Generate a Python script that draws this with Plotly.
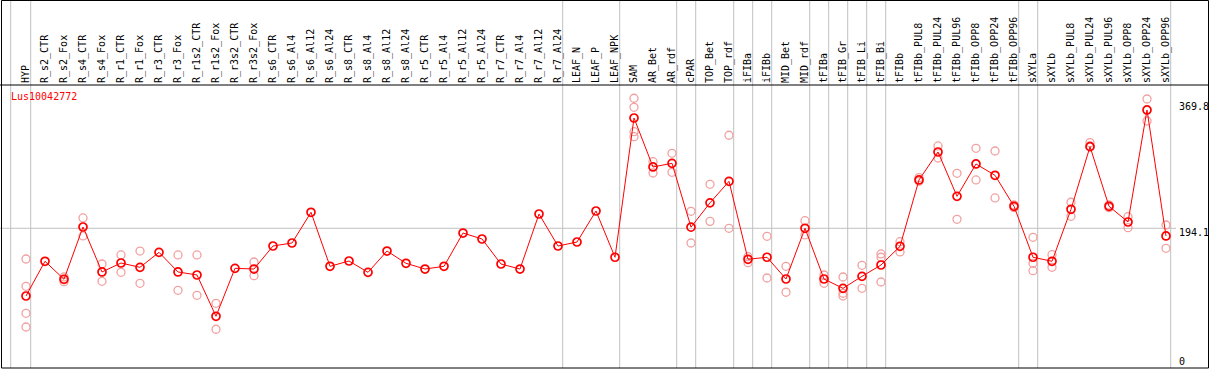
import plotly.graph_objects as go

categories = [
    "HYP", "R_s2_CTR", "R_s2_Fox", "R_s4_CTR", "R_s4_Fox", "R_r1_CTR", "R_r1_Fox",
    "R_r3_CTR", "R_r3_Fox", "R_r1s2_CTR", "R_r1s2_Fox", "R_r3s2_CTR", "R_r3s2_Fox",
    "R_s6_CTR", "R_s6_Al4", "R_s6_Al12", "R_s6_Al24", "R_s8_CTR", "R_s8_Al4",
    "R_s8_Al12", "R_s8_Al24", "R_r5_CTR", "R_r5_Al4", "R_r5_Al12", "R_r5_Al24",
    "R_r7_CTR", "R_r7_Al4", "R_r7_Al12", "R_r7_Al24", "LEAF_N", "LEAF_P", "LEAF_NPK",
    "SAM", "AR_Bet", "AR_rdf", "cPAR", "TOP_Bet", "TOP_rdf", "iFIBa", "iFIBb",
    "MID_Bet", "MID_rdf", "tFIBa", "tFIB_Gr", "tFIB_Li", "tFIB_Bi", "tFIBb",
    "tFIBb_PUL8", "tFIBb_PUL24", "tFIBb_PUL96", "tFIBb_OPP8", "tFIBb_OPP24", "tFIBb_OPP96",
    "sXYLa", "sXYLb", "sXYLb_PUL8", "sXYLb_PUL24", "sXYLb_PUL96", "sXYLb_OPP8",
    "sXYLb_OPP24", "sXYLb_OPP96",
]

mean_values = [
    99.7, 148.1, 123.0, 195.9, 133.2, 145.7, 139.7, 160.6, 133.2, 129.0,
    71.4, 138.3, 137.3, 169.4, 173.6, 216.4, 141.1, 148.5, 132.7, 162.4,
    145.3, 137.3, 141.1, 187.5, 179.2, 144.3, 137.3, 214.0, 169.4, 175.0,
    218.2, 153.7, 347.9, 279.6, 284.7, 195.7, 229.6, 259.6, 150.9, 153.7,
    123.4, 194.1, 123.4, 110.4, 127.1, 142.9, 169.0, 261.5, 300.5, 238.7,
    283.8, 268.0, 224.8, 153.7, 148.1, 220.6, 307.9, 224.8, 202.9, 359.1,
    183.4,
]

replicate_values = [
    [151.3, 113.2, 75.6, 56.5], [], [119.7, 126.3], [208.5, 183.4], [144.3, 120.2],
    [156.9, 132.7], [162.4, 117.4], [], [156.9, 107.6], [156.9, 100.7],
    [89.5, 53.3], [], [147.1, 128.0], [], [], [], [], [], [], [],
    [], [], [], [], [], [], [], [], [], [],
    [], [], [375.4, 362.8, 328.8, 321.8], [287.0, 271.2], [298.7, 272.2],
    [217.8, 173.6], [255.4, 203.8], [323.8, 194.1], [146.1, 154.5], [182.9, 124.8],
    [141.1, 104.9], [204.7, 184.8], [129.0, 117.4], [126.2, 103.5, 99.7], [142.5, 110.4],
    [158.3, 153.7, 119.2], [175.4, 161.1], [264.7, 259.6], [308.9, 292.1], [270.8, 206.6],
    [305.6, 261.5], [301.9, 236.4], [226.6, 222.8], [181.5, 145.3, 135.0], [157.3, 139.7],
    [230.4, 210.8], [313.5, 308.9], [222.8, 226.6], [210.3, 194.9], [374.4, 343.7],
    [198.7, 166.2],
]

# last category of each group (a separator is drawn just after it)
group_ends = ["HYP", "R_r7_Al24", "LEAF_NPK", "AR_rdf", "cPAR", "TOP_rdf", "iFIBa",
              "iFIBb", "MID_rdf", "tFIBa", "tFIB_Gr", "tFIB_Li", "tFIB_Bi",
              "tFIBb_OPP96", "sXYLa", "sXYLb_OPP96"]

axis_labels = [369.8, 194.1, 0]
title_text = "Lus10042772"

W, H = 1209, 370
TOP, BOT = 85, 2
plot_h = H - TOP - BOT
paper_top = (plot_h + TOP - 0.5) / plot_h

rep_x, rep_y = [], []
for cat, reps in zip(categories, replicate_values):
    for v in reps:
        rep_x.append(cat)
        rep_y.append(v)

GRAY = "#c0c0c0"
MONO = "DejaVu Sans Mono"

fig = go.Figure()
fig.add_trace(go.Scatter(
    x=rep_x, y=rep_y, mode="markers",
    marker=dict(symbol="circle-open", size=8, color="#f2a0a0", line=dict(width=1.3, color="#f2a0a0")),
    hoverinfo="skip", showlegend=False,
))
fig.add_trace(go.Scatter(
    x=categories, y=mean_values, mode="lines+markers",
    line=dict(color="#ff0000", width=1),
    marker=dict(symbol="circle-open", size=8, color="#ff0000", line=dict(width=1.7, color="#ff0000")),
    showlegend=False,
))

shapes = []
idx = {c: i for i, c in enumerate(categories)}
sep_positions = [-0.805] + [idx[c] + 0.247 for c in group_ends]
for xs in sep_positions:
    shapes.append(dict(type="line", xref="x", yref="paper", x0=xs, x1=xs, y0=0, y1=paper_top,
                       line=dict(color=GRAY, width=1), layer="below"))
shapes.append(dict(type="line", xref="paper", yref="y", x0=0, x1=1176 / W,
                   y0=axis_labels[1], y1=axis_labels[1], line=dict(color=GRAY, width=1), layer="below"))
# frame and header separator
shapes.append(dict(type="rect", xref="paper", yref="paper", x0=1.5 / W, x1=1208.5 / W,
                   y0=0, y1=paper_top, line=dict(color="black", width=1)))
shapes.append(dict(type="line", xref="paper", yref="paper", x0=0, x1=1, y0=1, y1=1,
                   line=dict(color="black", width=1)))

annotations = [dict(xref="paper", yref="paper", x=9 / W, y=(H - BOT - 97) / plot_h,
                    xanchor="left", yanchor="middle", text=title_text, showarrow=False,
                    font=dict(family=MONO, size=10, color="#ff0000"))]
shifts = [-4.4, -4, 6]
for v, s in zip(axis_labels, shifts):
    annotations.append(dict(xref="paper", yref="y", x=1177 / W, y=v, yshift=s,
                            xanchor="left", yanchor="middle", text=str(v), showarrow=False,
                            font=dict(family=MONO, size=10, color="black")))

fig.update_layout(
    template="none",
    width=W, height=H,
    margin=dict(l=0, r=0, t=TOP, b=BOT, pad=0),
    paper_bgcolor="white", plot_bgcolor="white",
    shapes=shapes, annotations=annotations,
    xaxis=dict(type="category", categoryorder="array", categoryarray=categories,
               range=[-26 / 19, (W - 26) / 19], side="top", tickangle=-90,
               tickfont=dict(family=MONO, size=10, color="black"),
               ticks="", showgrid=False, zeroline=False, showline=False,
               automargin=False, ticklabelstandoff=1, fixedrange=True),
    yaxis=dict(range=[-0.70, 393.9], showticklabels=False, showgrid=False,
               zeroline=False, showline=False, automargin=False, fixedrange=True),
)

fig.write_html("out.html", config={"displayModeBar": False},
               post_script="document.body.style.margin='0';document.body.style.overflow='hidden';")
